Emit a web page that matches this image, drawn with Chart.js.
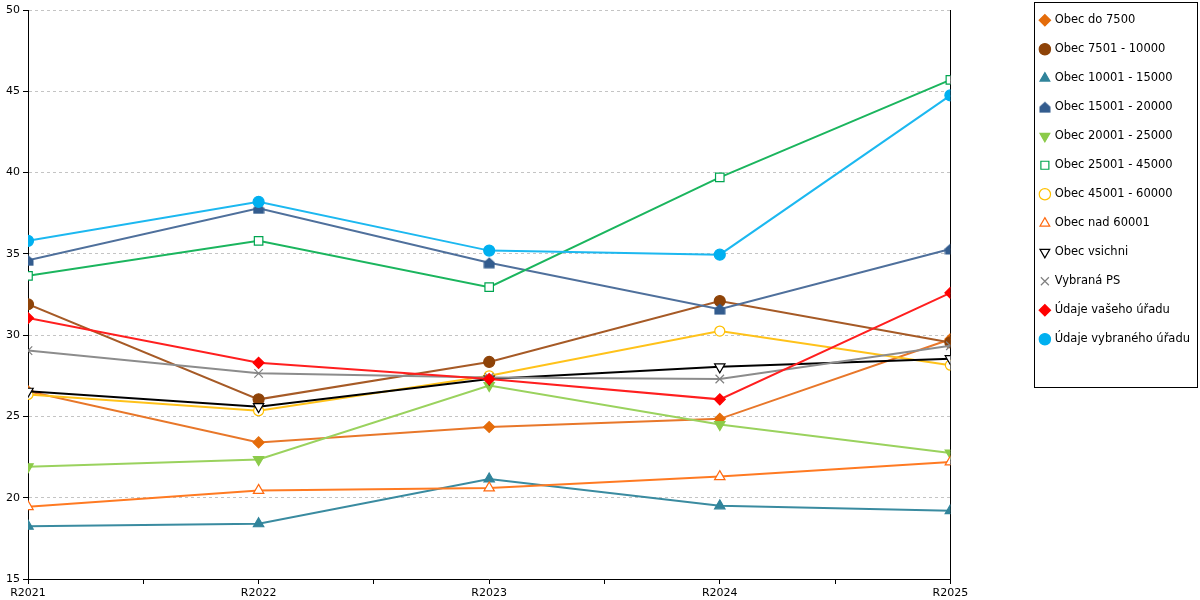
<!DOCTYPE html>
<html>
<head>
<meta charset="utf-8">
<script src="https://cdn.jsdelivr.net/npm/chart.js@4/dist/chart.umd.min.js"></script>
<style>
  html, body { margin: 0; padding: 0; background: #fff; }
  #wrap { width: 1200px; height: 600px; }
</style>
</head>
<body>
<div id="wrap"><canvas id="myChart" width="1200" height="600"></canvas></div>
<script>
// Kategorie (roky) a popisky os
const years = ["R2021", "R2022", "R2023", "R2024", "R2025"];
const yTicks = [15, 20, 25, 30, 35, 40, 45, 50];

// Hodnoty jednotlivych rad
const obecDo7500 = [26.55, 23.4, 24.35, 24.85, 29.75];
const obec7501 = [31.9, 26.05, 28.35, 32.1, 29.55];
const obec10001 = [18.25, 18.4, 21.15, 19.5, 19.2];
const obec15001 = [34.6, 37.8, 34.45, 31.6, 35.3];
const obec20001 = [21.9, 22.35, 26.9, 24.5, 22.75];
const obec25001 = [33.65, 35.8, 32.95, 39.7, 45.7];
const obec45001 = [26.35, 25.35, 27.5, 30.25, 28.15];
const obecNad60001 = [19.45, 20.45, 20.6, 21.3, 22.2];
const obecVsichni = [26.55, 25.6, 27.3, 28.05, 28.55];
const vybranaPS = [29.05, 27.65, 27.4, 27.3, 29.35];
const vasUrad = [31.05, 28.3, 27.3, 26.05, 32.6];
const vybranyUrad = [35.8, 38.2, 35.2, 34.95, 44.75];

// Znacka "domecek" pro Obec 15001 - 20000
function houseMarker(color) {
  const c = document.createElement("canvas");
  c.width = 12; c.height = 12;
  const g = c.getContext("2d");
  g.fillStyle = color;
  g.beginPath();
  g.moveTo(6, 0.5);
  g.lineTo(11.5, 5.5);
  g.lineTo(11.5, 11.5);
  g.lineTo(0.5, 11.5);
  g.lineTo(0.5, 5.5);
  g.closePath();
  g.fill();
  return c;
}

function series(label, values, line, fill, stroke, style, rotation, radius) {
  return {
    label: label,
    data: values.map((v, i) => ({ x: i, y: v })),
    borderColor: line,
    borderWidth: 2,
    backgroundColor: fill,
    pointBackgroundColor: fill,
    pointBorderColor: stroke,
    pointBorderWidth: 1.2,
    pointStyle: style,
    pointRotation: rotation || 0,
    pointRadius: radius || 5,
    tension: 0,
  };
}

const datasets = [
  series("Obec do 7500", obecDo7500, "#E8772A", "#E46C0A", "#E46C0A", "rectRot", 0, 5.5),
  series("Obec 7501 - 10000", obec7501, "#A65A26", "#8E4308", "#8E4308", "circle", 0, 5.5),
  series("Obec 10001 - 15000", obec10001, "#3A8BA0", "#31849B", "#31849B", "triangle", 0, 6),
  series("Obec 15001 - 20000", obec15001, "#4F709C", "#335C8E", "#335C8E", houseMarker("#335C8E")),
  series("Obec 20001 - 25000", obec20001, "#9AD25E", "#8CCB4A", "#8CCB4A", "triangle", 180, 6),
  series("Obec 25001 - 45000", obec25001, "#1BB55E", "#ffffff", "#00A550", "rect", 0, 6),
  series("Obec 45001 - 60000", obec45001, "#FFC21A", "#ffffff", "#FFC000", "circle"),
  series("Obec nad 60001", obecNad60001, "#FF7A22", "#ffffff", "#FF6A10", "triangle", 0, 6),
  series("Obec vsichni", obecVsichni, "#000000", "#ffffff", "#000000", "triangle", 180, 6),
  series("Vybraná PS", vybranaPS, "#8C8C8C", "#808080", "#808080", "crossRot", 0, 6),
  series("Údaje vašeho úřadu", vasUrad, "#FF1F1F", "#FF0000", "#FF0000", "rectRot", 0, 5.5),
  series("Údaje vybraného úřadu", vybranyUrad, "#1CB8F0", "#00B0F0", "#00B0F0", "circle", 0, 5.5),
];
// pozdejsi rady kreslit navrch
datasets.forEach((d, i) => { d.order = datasets.length - i; });

// Posun legendy, ramecek kolem legendy
const frame = {
  id: "frame",
  afterLayout(chart) {
    const lg = chart.legend;
    lg.top -= 13;
    lg.bottom -= 13;
    lg.left += 2;
    lg.right += 2;
  },
  afterDraw(chart) {
    const ctx = chart.ctx;
    ctx.save();
    ctx.strokeStyle = "#000";
    ctx.lineWidth = 1;
    ctx.strokeRect(1034.5, 2.5, 163, 385);
    ctx.restore();
  },
};

const ctx = document.getElementById("myChart").getContext("2d");
new Chart(ctx, {
  type: "line",
  data: { datasets: datasets },
  plugins: [frame],
  options: {
    responsive: false,
    animation: false,
    layout: { padding: { top: 10, right: 2 } },
    plugins: {
      tooltip: { enabled: false },
      legend: {
        position: "right",
        align: "start",
        labels: {
          usePointStyle: true,
          boxWidth: 8,
          boxHeight: 8,
          padding: 17.5,
          color: "#000",
          font: { family: "DejaVu Sans", size: 11.5 },
          sort: (a, b) => a.datasetIndex - b.datasetIndex,
        },
      },
    },
    scales: {
      x: {
        type: "linear",
        min: 0,
        max: years.length - 1,
        grid: { drawOnChartArea: false, drawTicks: true, tickLength: 5, color: "#000" },
        border: { color: "#000", width: 1 },
        ticks: {
          stepSize: 0.5,
          autoSkip: false,
          maxRotation: 0,
          padding: 3,
          color: "#000",
          font: { family: "DejaVu Sans", size: 11 },
          callback: (v) => (Number.isInteger(v) ? years[v] : ""),
        },
        afterFit: (s) => { s.height = 21; },
      },
      y: {
        min: yTicks[0],
        max: yTicks[yTicks.length - 1],
        grid: { color: "#c4c4c4", tickColor: "#000", tickLength: 5 },
        border: { color: "#000", width: 1, dash: [3, 3] },
        ticks: {
          stepSize: 5,
          padding: 3,
          color: "#000",
          font: { family: "DejaVu Sans", size: 11 },
        },
        afterFit: (s) => { s.width = 28; },
      },
      y2: {
        position: "right",
        grid: { display: false },
        ticks: { display: false },
        border: { color: "#000", width: 1 },
        afterFit: (s) => { s.width = 71; },
      },
    },
  },
});
</script>
</body>
</html>
